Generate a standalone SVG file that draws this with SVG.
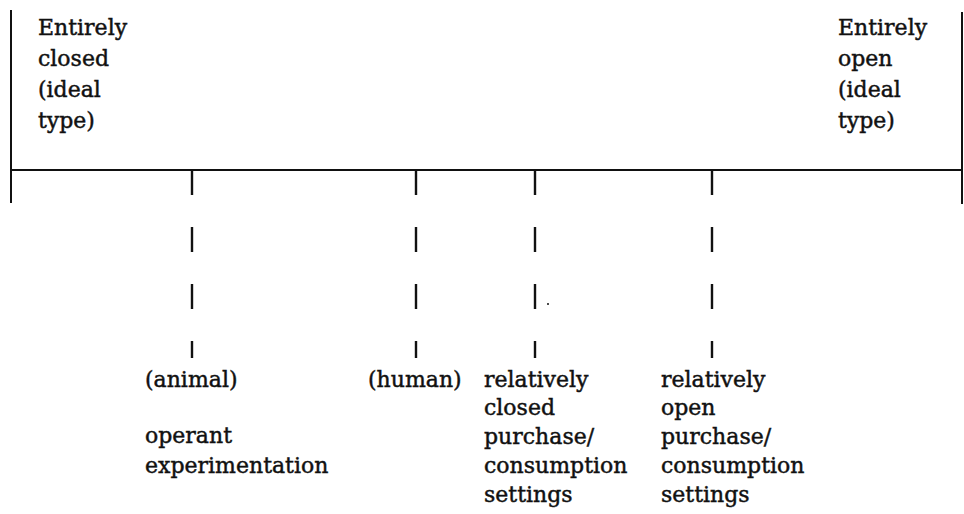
<svg xmlns="http://www.w3.org/2000/svg" width="964" height="514" viewBox="0 0 964 514">
  <style>
    .lbl { font-family: "DejaVu Serif", "Liberation Serif", serif; font-size: 22px; fill: #111; stroke: #111; stroke-width: 0.45; }
    .axis { stroke: #111; stroke-width: 2; fill: none; }
    .tick { stroke: #111; stroke-width: 2.4; fill: none; stroke-dasharray: 25 32; }
  </style>
  <rect width="964" height="514" fill="#fff"/>

  <!-- continuum axis with end bars -->
  <g id="axis">
    <line class="axis" x1="11" y1="10" x2="11" y2="203"/>
    <line class="axis" x1="962" y1="12" x2="962" y2="204"/>
    <line class="axis" x1="11" y1="170" x2="962" y2="170"/>
  </g>

  <!-- dashed drop lines from the axis to the setting labels -->
  <g id="connectors">
    <line class="tick" x1="192" y1="170" x2="192" y2="358"/>
    <line class="tick" x1="416" y1="170" x2="416" y2="358"/>
    <line class="tick" x1="535" y1="170" x2="535" y2="358"/>
    <line class="tick" x1="712" y1="170" x2="712" y2="358"/>
    <circle cx="548" cy="304" r="1" fill="#111"/>
  </g>

  <g id="closed-end">
    <text class="lbl" x="38" y="35">Entirely</text>
    <text class="lbl" x="38" y="66">closed</text>
    <text class="lbl" x="38" y="97">(ideal</text>
    <text class="lbl" x="38" y="128">type)</text>
  </g>

  <g id="open-end">
    <text class="lbl" x="838" y="35">Entirely</text>
    <text class="lbl" x="838" y="66">open</text>
    <text class="lbl" x="838" y="97">(ideal</text>
    <text class="lbl" x="838" y="128">type)</text>
  </g>

  <g id="animal">
    <text class="lbl" x="145" y="387">(animal)</text>
    <text class="lbl" x="145" y="443">operant</text>
    <text class="lbl" x="145" y="473">experimentation</text>
  </g>

  <g id="human">
    <text class="lbl" x="368" y="387">(human)</text>
  </g>

  <g id="relatively-closed">
    <text class="lbl" x="484" y="387">relatively</text>
    <text class="lbl" x="484" y="415">closed</text>
    <text class="lbl" x="484" y="444">purchase/</text>
    <text class="lbl" x="484" y="473">consumption</text>
    <text class="lbl" x="484" y="502">settings</text>
  </g>

  <g id="relatively-open">
    <text class="lbl" x="661" y="387">relatively</text>
    <text class="lbl" x="661" y="415">open</text>
    <text class="lbl" x="661" y="444">purchase/</text>
    <text class="lbl" x="661" y="473">consumption</text>
    <text class="lbl" x="661" y="502">settings</text>
  </g>
</svg>
